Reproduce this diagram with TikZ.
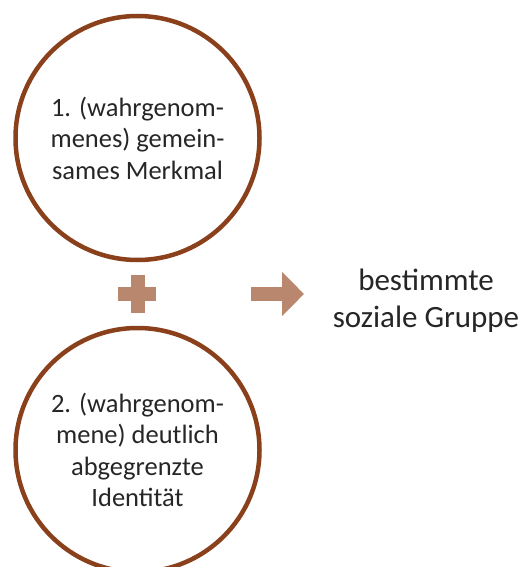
\documentclass[tikz,border=0pt]{standalone}
\usepackage{fontspec}
\setmainfont{Carlito}
\usepackage{xcolor}
\usetikzlibrary{arrows.meta}

\definecolor{ringbrown}{RGB}{139,64,28}
\definecolor{signtan}{RGB}{185,135,110}
\definecolor{textgray}{RGB}{38,38,38}

\begin{document}
\begin{tikzpicture}[x=1pt, y=-1pt,
    ring/.style={circle, draw=ringbrown, line width=4.5pt, minimum size=244pt,
                 text=textgray, align=center, font=\fontsize{26.5}{31.5}\selectfont},
    sign/.style={draw=signtan, line width=14pt}]
        \useasboundingbox (0,0) rectangle (525,567);

        % Define nodes
        \node[ring] (M) at (137.5,138) {1. (wahrgenom-\\menes) gemein-\\sames Merkmal};
        \node[ring] (I) at (137.5,450) {2. (wahrgenom-\\mene) deutlich\\abgegrenzte\\Identität};
        \node[text=textgray, align=center, font=\fontsize{31}{37}\selectfont] (G) at (426,301) {bestimmte\\soziale Gruppe};

        % Plus sign
        \draw[sign] (118,294) -- (156,294);
        \draw[sign] (137.5,275) -- (137.5,313);

        % Arrow to the group
        \coordinate (a1) at (251,294);
        \coordinate (a2) at (304,294);
        \draw[sign, -{Triangle[length=22pt, width=43pt]}] (a1) -- (a2);
\end{tikzpicture}
\end{document}
